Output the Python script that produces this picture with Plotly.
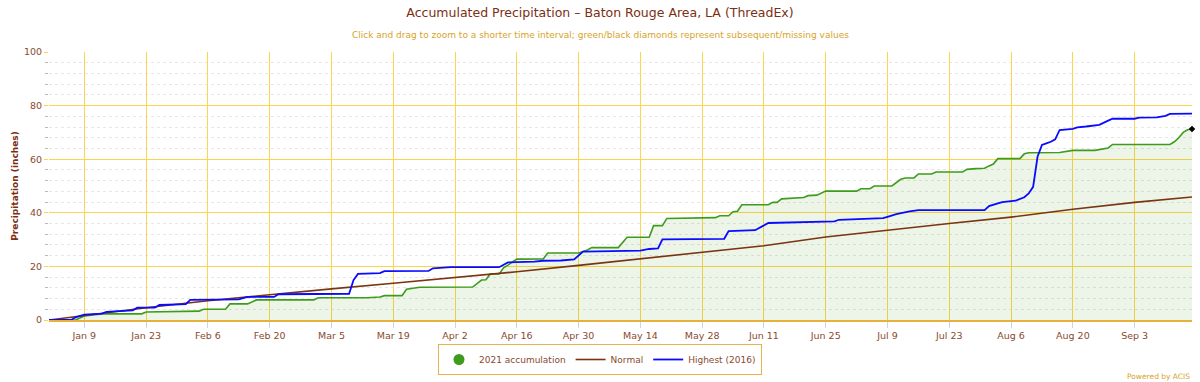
import plotly.graph_objects as go

# ---------------- data ----------------
# (the source chart plots the season on a 366-day climatological calendar, hence 2020 dates)
acc_2021_dates = [
    "2020-01-01", "2020-01-07", "2020-01-09", "2020-01-13", "2020-01-22", "2020-01-23",
    "2020-02-04", "2020-02-05", "2020-02-10", "2020-02-11", "2020-02-15", "2020-02-16",
    "2020-02-17", "2020-03-01", "2020-03-02", "2020-03-13", "2020-03-16", "2020-03-17",
    "2020-03-21", "2020-03-22", "2020-03-25", "2020-04-06", "2020-04-08", "2020-04-09",
    "2020-04-10", "2020-04-12", "2020-04-13", "2020-04-14", "2020-04-16", "2020-04-22",
    "2020-04-23", "2020-04-30", "2020-05-02", "2020-05-03", "2020-05-09", "2020-05-11",
    "2020-05-16", "2020-05-17", "2020-05-19", "2020-05-20", "2020-05-31", "2020-06-01",
    "2020-06-03", "2020-06-04", "2020-06-05", "2020-06-06", "2020-06-12", "2020-06-13",
    "2020-06-14", "2020-06-15", "2020-06-20", "2020-06-21", "2020-06-23", "2020-06-25",
    "2020-07-02", "2020-07-03", "2020-07-05", "2020-07-06", "2020-07-10", "2020-07-12",
    "2020-07-13", "2020-07-15", "2020-07-16", "2020-07-19", "2020-07-20", "2020-07-26",
    "2020-07-27", "2020-07-29", "2020-07-31", "2020-08-01", "2020-08-02", "2020-08-03",
    "2020-08-08", "2020-08-09", "2020-08-10", "2020-08-17", "2020-08-20", "2020-08-25",
    "2020-08-27", "2020-08-28", "2020-08-29", "2020-09-11", "2020-09-12", "2020-09-13",
    "2020-09-14", "2020-09-15", "2020-09-16",
]
acc_2021_values = [
    0, 0, 1.5, 2.3, 2.3, 3.0,
    3.3, 4.0, 4.0, 6.0, 6.0, 6.7,
    7.5, 7.5, 8.3, 8.3, 8.6, 9.1,
    9.1, 11.5, 12.2, 12.3, 14.9, 15.0,
    17.2, 17.2, 19.5, 20.5, 22.7, 22.8,
    25.0, 25.0, 26.1, 27.0, 27.0, 30.9,
    30.9, 35.2, 35.2, 37.9, 38.2, 38.9,
    38.9, 40.4, 40.6, 43.0, 43.0, 43.9,
    43.9, 45.2, 45.7, 46.4, 46.6, 48.1,
    48.1, 49.0, 49.0, 50.0, 50.0, 52.5,
    53.0, 53.0, 54.5, 54.5, 55.2, 55.2,
    56.2, 56.5, 56.6, 57.5, 58.2, 60.2,
    60.2, 62.0, 62.4, 62.5, 63.3, 63.3,
    63.8, 64.2, 65.5, 65.5, 66.5, 68.0,
    70.0, 71.0, 71.3,
]

normal_dates = [
    "2020-01-01", "2020-01-09", "2020-01-23", "2020-02-06", "2020-02-20", "2020-03-05",
    "2020-03-19", "2020-04-02", "2020-04-16", "2020-04-30", "2020-05-14", "2020-05-28",
    "2020-06-11", "2020-06-25", "2020-07-09", "2020-07-23", "2020-08-06", "2020-08-20",
    "2020-09-03", "2020-09-16",
]
normal_values = [
    0, 1.7, 4.6, 7.2, 9.5, 11.6,
    13.7, 15.8, 18.0, 20.4, 22.8, 25.1,
    27.7, 31.0, 33.6, 36.0, 38.4, 41.3,
    43.9, 45.9,
]

highest_dates = [
    "2020-01-01", "2020-01-06", "2020-01-07", "2020-01-09", "2020-01-13", "2020-01-14",
    "2020-01-20", "2020-01-21", "2020-01-25", "2020-01-26", "2020-02-01", "2020-02-02",
    "2020-02-13", "2020-02-15", "2020-02-21", "2020-02-22", "2020-03-09", "2020-03-10",
    "2020-03-11", "2020-03-16", "2020-03-17", "2020-03-27", "2020-03-28", "2020-04-01",
    "2020-04-12", "2020-04-14", "2020-04-20", "2020-04-22", "2020-04-26", "2020-04-29",
    "2020-05-01", "2020-05-14", "2020-05-16", "2020-05-18", "2020-05-19", "2020-06-02",
    "2020-06-03", "2020-06-09", "2020-06-12", "2020-06-27", "2020-06-28", "2020-07-03",
    "2020-07-04", "2020-07-08", "2020-07-09", "2020-07-11", "2020-07-14", "2020-07-16",
    "2020-07-31", "2020-08-01", "2020-08-03", "2020-08-04", "2020-08-07", "2020-08-09",
    "2020-08-10", "2020-08-11", "2020-08-12", "2020-08-13", "2020-08-14", "2020-08-15",
    "2020-08-16", "2020-08-17", "2020-08-20", "2020-08-21", "2020-08-23", "2020-08-26",
    "2020-08-28", "2020-08-29", "2020-09-03", "2020-09-04", "2020-09-08", "2020-09-10",
    "2020-09-11", "2020-09-16",
]
highest_values = [
    0, 0, 1.0, 2.0, 2.4, 3.0,
    3.6, 4.6, 4.6, 5.6, 5.9, 7.5,
    7.7, 8.6, 8.6, 9.6, 9.8, 14.9,
    17.2, 17.5, 18.2, 18.3, 19.3, 19.7,
    19.7, 21.5, 21.8, 22.1, 22.2, 22.6,
    25.5, 25.9, 26.5, 26.7, 30.1, 30.3,
    33.2, 33.5, 36.2, 36.8, 37.4, 37.7,
    38.0, 38.0, 38.5, 39.5, 40.5, 41.0,
    41.0, 42.5, 43.5, 44.0, 44.5, 45.8,
    47.2, 49.7, 60.9, 65.3, 65.9, 66.5,
    67.4, 70.9, 71.3, 71.9, 72.2, 72.8,
    74.4, 75.1, 75.1, 75.5, 75.6, 76.2,
    76.9, 77.0,
]

series_names = ["2021 accumulation", "Normal", "Highest (2016)"]
title_text = "Accumulated Precipitation \u2013 Baton Rouge Area, LA (ThreadEx)"
subtitle_text = ("Click and drag to zoom to a shorter time interval; "
                 "green/black diamonds represent subsequent/missing values")
y_title = "Precipitation (inches)"

# ---------------- style ----------------
FONT = "DejaVu Sans"
BROWN = "#7b2f12"
TICK_BROWN = "#8a4a2e"
GOLD = "#d7a32a"
GRID = "#fbd54c"
GREEN = "#3d9c1b"
NORMAL_C = "#7a3410"
BLUE = "#0a0aff"

# plot area in pixels (for placing paper-referenced annotations)
PL, PR, PT, PB = 49, 1192, 52, 320
PW, PH = PR - PL, PB - PT


def px_to_paper_x(px):
    return (px - PL) / PW


def px_to_paper_y(py):
    return (PB - py) / PH


# dotted minor grid every 4 inches, skipping the major (20-inch) lines
minor_vals = [v for v in range(4, 100, 4) if v % 20 != 0]

fig = go.Figure()

# 2021 accumulation area
fig.add_trace(go.Scatter(
    x=acc_2021_dates, y=acc_2021_values, mode="lines",
    line=dict(color=GREEN, width=1.6), fill="tozeroy",
    fillcolor="rgba(70,160,30,0.10)", showlegend=False, name=series_names[0],
))
# final point (black diamond)
fig.add_trace(go.Scatter(
    x=acc_2021_dates[-1:], y=acc_2021_values[-1:], mode="markers",
    marker=dict(symbol="diamond", color="black", size=5), showlegend=False,
    cliponaxis=False,
))
# Legend proxy for 2021
fig.add_trace(go.Scatter(
    x=[None], y=[None], mode="markers", name=series_names[0],
    marker=dict(color=GREEN, size=11, symbol="circle"),
))
fig.add_trace(go.Scatter(
    x=normal_dates, y=normal_values, mode="lines", name=series_names[1],
    line=dict(color=NORMAL_C, width=1.6),
))
fig.add_trace(go.Scatter(
    x=highest_dates, y=highest_values, mode="lines", name=series_names[2],
    line=dict(color=BLUE, width=1.8),
))

fig.update_layout(
    width=1200, height=382,
    margin=dict(l=PL, r=1200 - PR, t=PT, b=382 - PB, autoexpand=False),
    paper_bgcolor="white", plot_bgcolor="white",
    font=dict(family=FONT, color=TICK_BROWN, size=10),
    title=dict(text=title_text, x=0.5, xref="container", xanchor="center",
               y=1 - 13 / 382, yref="container", yanchor="middle",
               font=dict(family=FONT, size=12.5, color=BROWN)),
    annotations=[
        dict(text=subtitle_text, xref="paper", yref="paper", x=px_to_paper_x(600),
             y=px_to_paper_y(35), xanchor="center", yanchor="middle", showarrow=False,
             font=dict(family=FONT, size=9, color=GOLD)),
        dict(text="Powered by ACIS", xref="paper", yref="paper",
             x=px_to_paper_x(1192), y=px_to_paper_y(376), xanchor="right", yanchor="middle",
             showarrow=False, font=dict(family=FONT, size=7.5, color=GOLD)),
    ],
    legend=dict(orientation="h", xref="container", yref="container",
                x=0.5, xanchor="center", y=1 - 344 / 382, yanchor="top",
                bordercolor="#e2b44a", borderwidth=1, bgcolor="white",
                font=dict(family=FONT, size=9, color=TICK_BROWN),
                itemwidth=30, tracegroupgap=0),
    showlegend=True,
    hovermode=False,
)

fig.update_xaxes(
    type="date", range=["2020-01-01", "2020-09-16"],
    tick0="2020-01-09", dtick=14 * 86400000, tickformat="%b %-d",
    showgrid=True, gridcolor=GRID, gridwidth=1,
    ticks="outside", ticklen=6, tickcolor="#c8d6e6",
    showline=True, linecolor="#e8b23a", linewidth=1.5,
    tickfont=dict(family=FONT, size=9.5, color=TICK_BROWN),
    zeroline=False, fixedrange=True, automargin=False,
)
fig.update_yaxes(
    range=[0, 100], dtick=20, tick0=0,
    showgrid=True, gridcolor=GRID, gridwidth=1,
    ticks="outside", ticklen=4, tickcolor=GRID,
    minor=dict(tickmode="array", tickvals=minor_vals, showgrid=True,
               gridcolor="#e6e6e6", griddash="dot",
               ticks="outside", ticklen=3, tickcolor="#bbbbbb"),
    title=dict(text="<b>" + y_title + "</b>", standoff=3,
               font=dict(family=FONT, size=9, color=BROWN)),
    tickfont=dict(family=FONT, size=9.5, color=TICK_BROWN),
    zeroline=False, showline=False, fixedrange=True, automargin=False,
)

fig.write_html("out.html", config={"displayModeBar": False},
               post_script="document.body.style.margin='0px';")
